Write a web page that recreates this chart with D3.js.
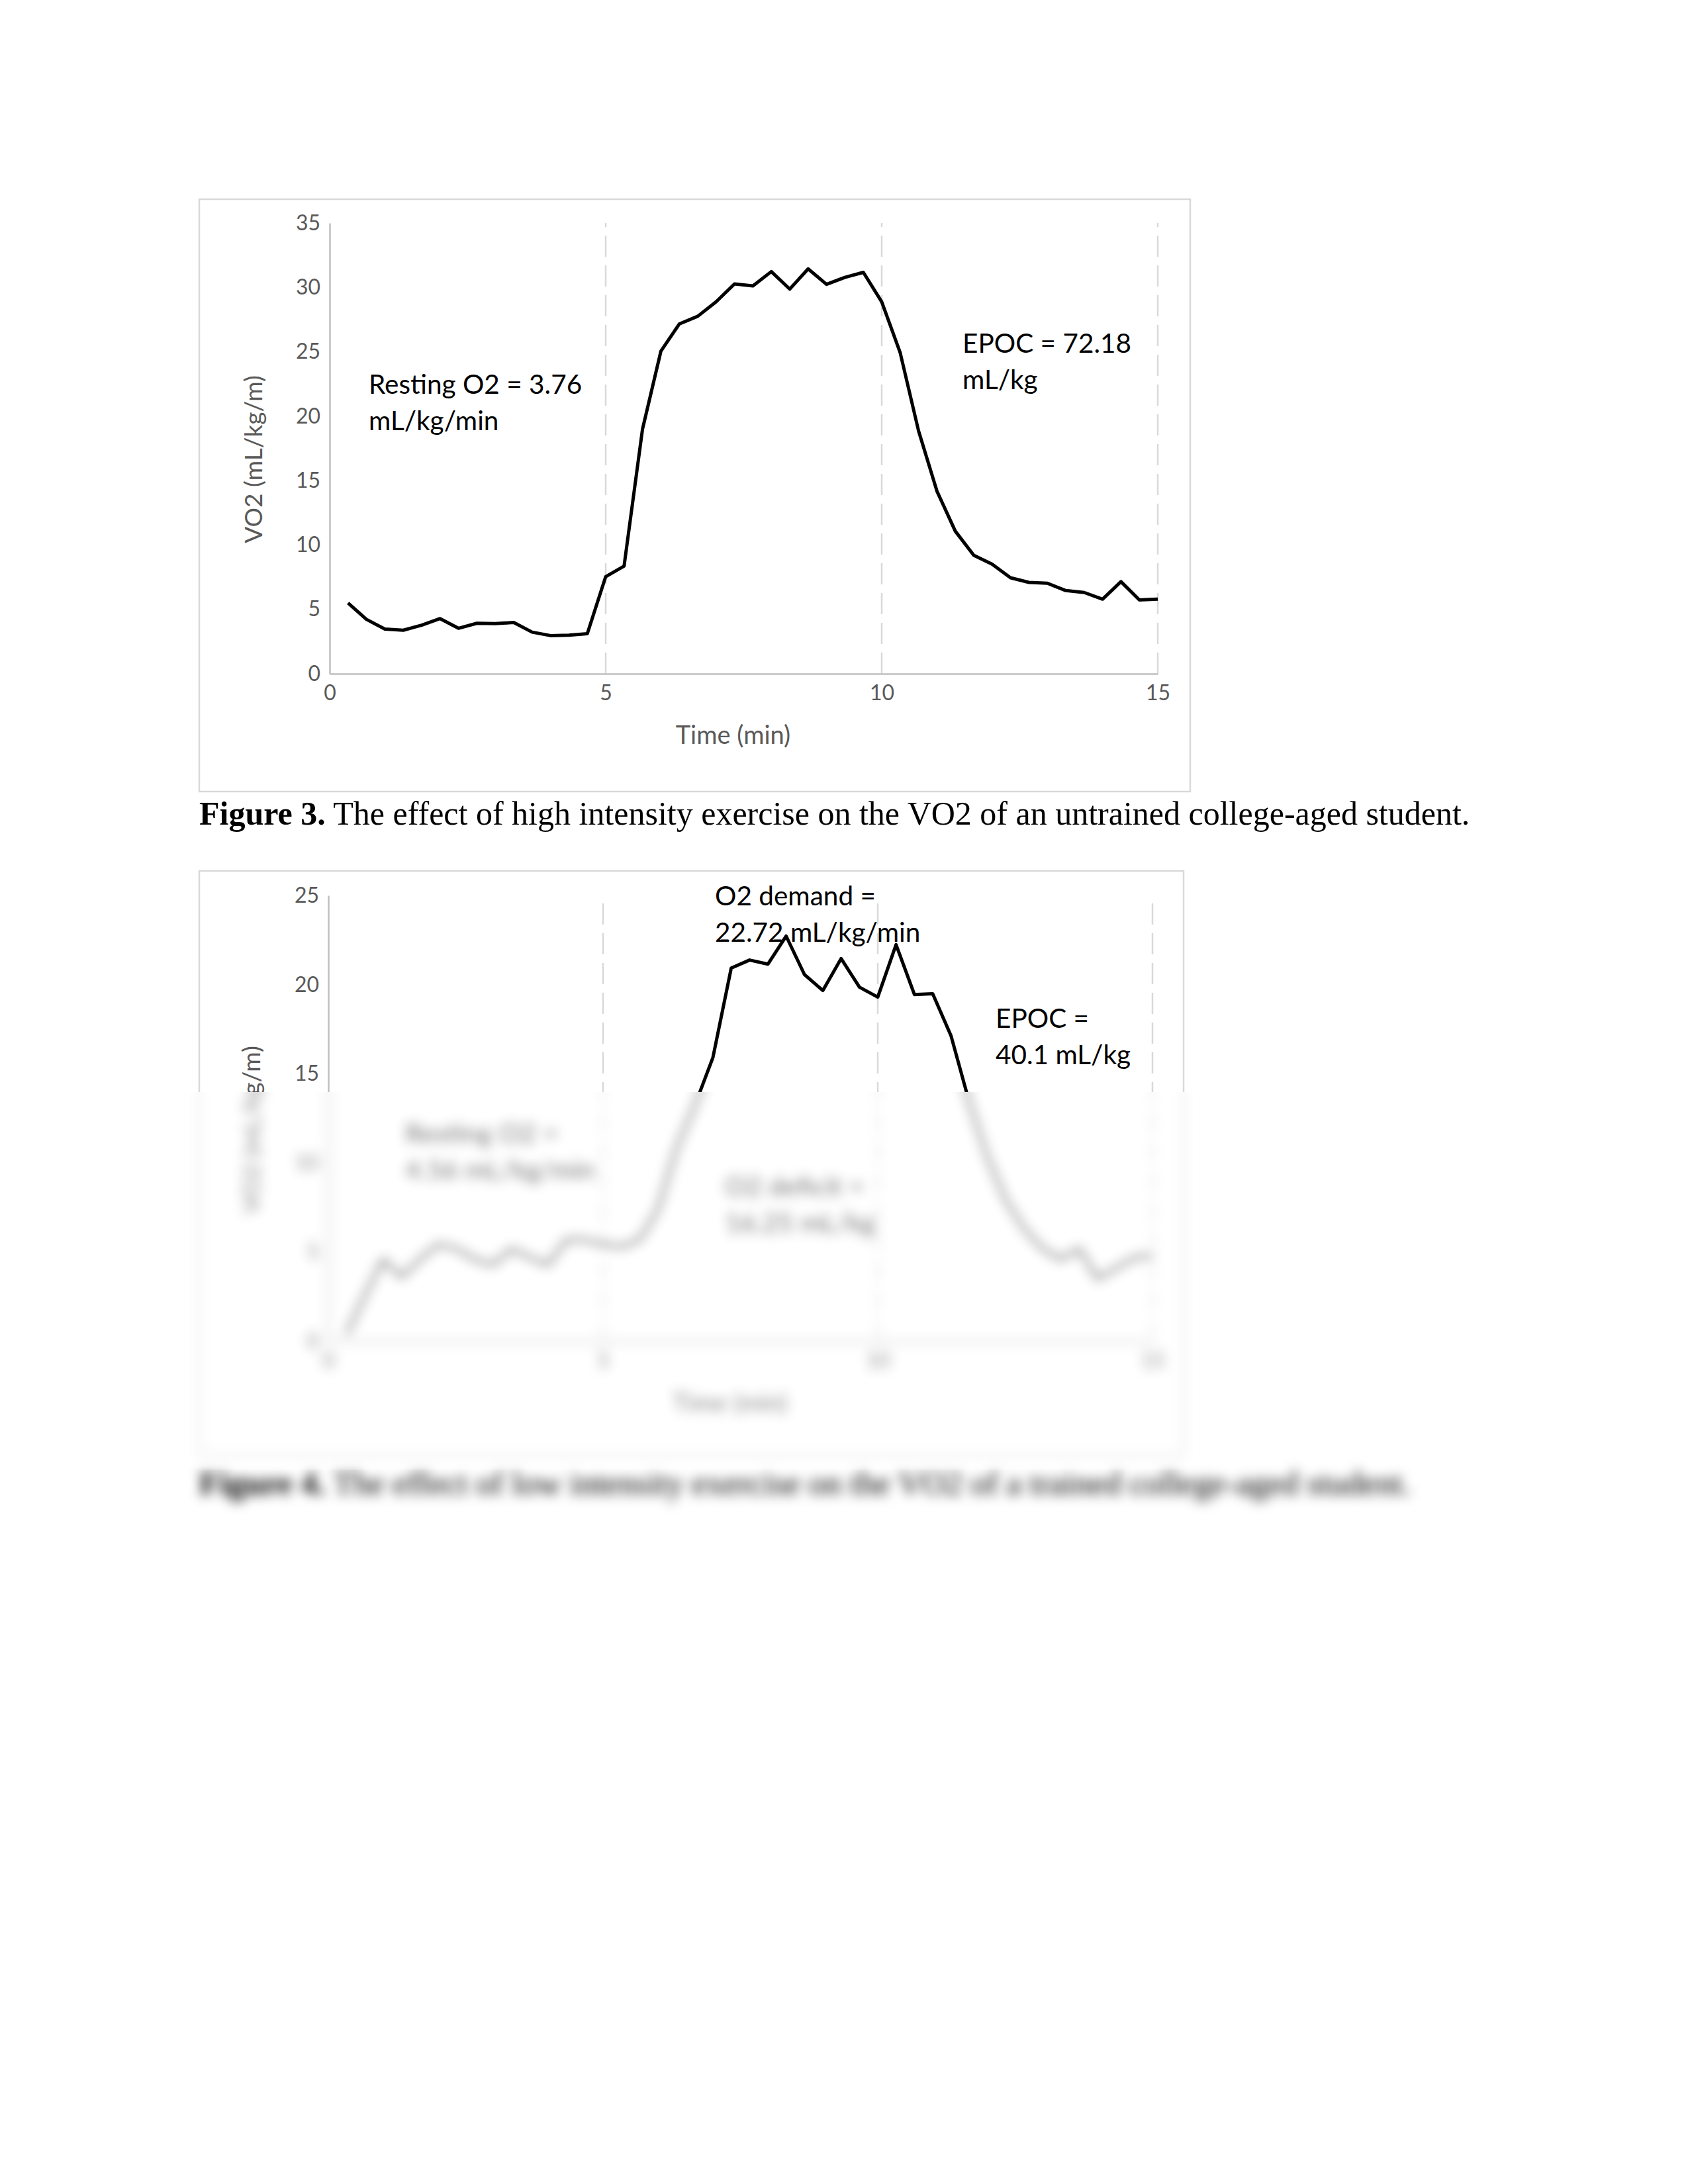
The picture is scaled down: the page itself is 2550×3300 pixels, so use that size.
<!DOCTYPE html>
<html>
<head>
<meta charset="utf-8">
<script src="https://cdn.jsdelivr.net/npm/d3@7"></script>
<style>
  html, body { margin: 0; padding: 0; background: #fff; }
  svg { display: block; }
</style>
</head>
<body>
<div id="page"></div>
<script>
// sample times, every 20 s
const TIME_MIN = [
  0.333, 0.667, 1, 1.333, 1.667, 2, 2.333, 2.667, 3, 3.333, 3.667, 4, 4.333, 4.667, 5,
  5.333, 5.667, 6, 6.333, 6.667, 7, 7.333, 7.667, 8, 8.333, 8.667, 9, 9.333, 9.667, 10,
  10.333, 10.667, 11, 11.333, 11.667, 12, 12.333, 12.667, 13, 13.333, 13.667, 14, 14.333, 14.667, 15
];

// Figure 3: high intensity, untrained
const VO2_HIGH = [
  5.49, 4.22, 3.47, 3.38, 3.77, 4.28, 3.53, 3.92, 3.89, 3.98, 3.23, 2.96, 2.99, 3.11, 7.54,
  8.36, 19.0, 25.05, 27.16, 27.76, 28.88, 30.27, 30.12, 31.23, 29.87, 31.44, 30.24, 30.78, 31.17, 28.88,
  24.95, 18.86, 14.18, 11.07, 9.2, 8.51, 7.45, 7.09, 7.03, 6.46, 6.31, 5.79, 7.15, 5.73, 5.79
];

// Figure 4: low intensity, trained
const VO2_LOW = [
  0.4, 2.6, 4.6, 3.6, 4.6, 5.45, 5.2, 4.6, 4.3, 5.2, 4.7, 4.3, 5.7, 5.7, 5.45,
  5.3, 5.7, 7.4, 10.8, 13.2, 15.92, 20.93, 21.38, 21.15, 22.72, 20.56, 19.67, 21.46, 19.86, 19.3,
  22.24, 19.45, 19.49, 17.14, 13.4, 10.3, 7.9, 6.3, 5.2, 4.6, 5.2, 3.5, 4.1, 4.7, 4.8
];

const X_TICKS = [0, 5, 10, 15];
const PHASE_MARKS = [5, 10, 15];
const Y_TICKS_HIGH = [0, 5, 10, 15, 20, 25, 30, 35];
const Y_TICKS_LOW = [0, 5, 10, 15, 20, 25];

const X_TITLE = 'Time (min)';
const Y_TITLE = 'VO2 (mL/kg/m)';

const NOTES_HIGH = [
  ['Resting O2 = 3.76', 'mL/kg/min'],
  ['EPOC = 72.18', 'mL/kg']
];
const NOTES_LOW = [
  ['O2 demand =', '22.72 mL/kg/min'],
  ['EPOC =', '40.1 mL/kg'],
  ['Resting O2 =', '4.56 mL/kg/min'],
  ['O2 deficit =', '16.25 mL/kg']
];

const CAPTION_HIGH = ['Figure 3.', ' The effect of high intensity exercise on the VO2 of an untrained college-aged student.'];
const CAPTION_LOW = ['Figure 4.', ' The effect of low intensity exercise on the VO2 of a trained college-aged student.'];

const W = 2550, H = 3300;
const BLUR_TOP = 1650;
const GRAY_TEXT = '#595959';
const AXIS_COLOR = '#bfbfbf';
const DASH_COLOR = '#d9d9d9';

const svg = d3.select('#page').append('svg')
  .attr('width', W).attr('height', H)
  .attr('viewBox', `0 0 ${W} ${H}`);

svg.append('rect').attr('width', W).attr('height', H).attr('fill', '#fff');

const defs = svg.append('defs');
defs.append('filter')
  .attr('id', 'soft')
  .attr('filterUnits', 'userSpaceOnUse')
  .attr('x', 0).attr('y', 0).attr('width', W).attr('height', H)
  .append('feGaussianBlur').attr('stdDeviation', 9);
defs.append('clipPath').attr('id', 'clipTop')
  .append('rect').attr('x', 0).attr('y', 0).attr('width', W).attr('height', BLUR_TOP);
defs.append('clipPath').attr('id', 'clipBottom')
  .append('rect').attr('x', 0).attr('y', BLUR_TOP).attr('width', W).attr('height', H - BLUR_TOP);

function drawFigure(g, cfg) {
  // chart frame
  g.append('rect')
    .attr('x', cfg.box[0]).attr('y', cfg.box[1])
    .attr('width', cfg.box[2] - cfg.box[0]).attr('height', cfg.box[3] - cfg.box[1])
    .attr('fill', '#fff').attr('stroke', DASH_COLOR).attr('stroke-width', 2.5);

  const x = d3.scaleLinear().domain([0, 15]).range([cfg.plot.left, cfg.plot.right]);
  const y = d3.scaleLinear().domain([0, cfg.yMax]).range([cfg.plot.bottom, cfg.plot.top]);

  // phase boundaries
  g.append('g').selectAll('line')
    .data(PHASE_MARKS)
    .enter().append('line')
    .attr('x1', d => x(d)).attr('x2', d => x(d))
    .attr('y1', y(0)).attr('y2', y(cfg.yMax))
    .attr('stroke', DASH_COLOR).attr('stroke-width', 2.5)
    .attr('stroke-dasharray', '32,13');

  const yAxis = g.append('g')
    .attr('transform', `translate(${x(0)},0)`)
    .call(d3.axisLeft(y).tickValues(cfg.yTicks).tickSize(0).tickSizeOuter(0).tickPadding(14));
  const xAxis = g.append('g')
    .attr('transform', `translate(0,${y(0)})`)
    .call(d3.axisBottom(x).tickValues(X_TICKS).tickSize(0).tickSizeOuter(0).tickPadding(17));

  [yAxis, xAxis].forEach(ax => {
    ax.attr('font-family', 'Lato').attr('font-size', 32);
    ax.select('.domain').attr('stroke', AXIS_COLOR).attr('stroke-width', 2.5);
    ax.selectAll('text').attr('fill', GRAY_TEXT);
  });

  // axis titles
  g.append('text')
    .attr('transform', `translate(${cfg.yTitle[0]},${cfg.yTitle[1]}) rotate(-90)`)
    .attr('text-anchor', 'middle').attr('dy', '0.35em')
    .attr('font-family', 'Lato').attr('font-size', 37).attr('fill', GRAY_TEXT)
    .text(Y_TITLE);
  g.append('text')
    .attr('x', x(7.5) - 16).attr('y', cfg.xTitleY)
    .attr('text-anchor', 'middle').attr('dy', '0.35em')
    .attr('font-family', 'Lato').attr('font-size', 38).attr('fill', GRAY_TEXT)
    .text(X_TITLE);

  // VO2 trace
  const line = d3.line()
    .x((d, i) => x(TIME_MIN[i]))
    .y(d => y(d));
  g.append('path')
    .datum(cfg.values)
    .attr('d', line)
    .attr('fill', 'none').attr('stroke', '#000')
    .attr('stroke-width', 5).attr('stroke-linejoin', 'round');

  // annotations
  cfg.notes.forEach((lines, k) => {
    const pos = cfg.notePos[k];
    const t = g.append('text')
      .attr('font-family', 'Lato').attr('font-size', 40.5).attr('fill', '#000');
    lines.forEach((s, j) => {
      t.append('tspan')
        .attr('x', pos[0]).attr('y', pos[1] + j * 55)
        .attr('dy', '0.36em')
        .text(s);
    });
  });

  // caption
  const cap = g.append('text')
    .attr('x', cfg.box[0]).attr('y', cfg.captionY)
    .attr('font-family', 'Liberation Serif').attr('font-size', 50).attr('fill', '#000');
  cap.append('tspan').attr('font-weight', 'bold').text(cfg.caption[0]);
  cap.append('tspan').text(cfg.caption[1]);
}

drawFigure(svg.append('g'), {
  box: [301, 301, 1798, 1196],
  plot: { left: 498, right: 1749, top: 337, bottom: 1018 },
  yMax: 35,
  yTicks: Y_TICKS_HIGH,
  values: VO2_HIGH,
  yTitle: [383, 694],
  xTitleY: 1111,
  notes: NOTES_HIGH,
  notePos: [[557, 580], [1454, 518]],
  caption: CAPTION_HIGH,
  captionY: 1246
});

// second figure: drawn once in defs, shown sharp above the cut and softened below it
const fig4 = defs.append('g').attr('id', 'fig4');
drawFigure(fig4, {
  box: [301, 1316, 1788, 2199],
  plot: { left: 496, right: 1741, top: 1353, bottom: 2027 },
  yMax: 25,
  yTicks: Y_TICKS_LOW,
  values: VO2_LOW,
  yTitle: [380, 1707],
  xTitleY: 2120,
  notes: NOTES_LOW,
  notePos: [[1080, 1353], [1504, 1538], [612, 1712], [1095, 1792]],
  caption: CAPTION_LOW,
  captionY: 2258
});

svg.append('use').attr('href', '#fig4').attr('clip-path', 'url(#clipTop)');
svg.append('use').attr('href', '#fig4')
  .attr('filter', 'url(#soft)')
  .attr('clip-path', 'url(#clipBottom)');
</script>
</body>
</html>
